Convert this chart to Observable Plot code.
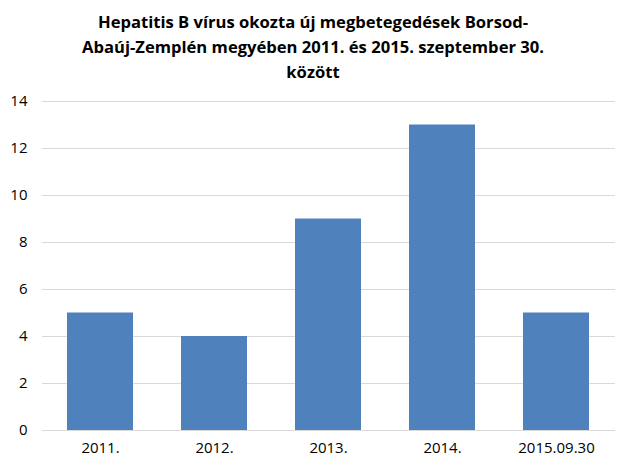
<!DOCTYPE html>
<html>
<head>
<meta charset="utf-8">
<script src="https://cdn.jsdelivr.net/npm/d3@7"></script>
<script src="https://cdn.jsdelivr.net/npm/@observablehq/plot@0.6"></script>
<style>
  html, body { margin: 0; padding: 0; background: #fff; }
  #title { width: 626px; height: 90px; box-sizing: border-box; padding-top: 9px; text-align: center;
    font-family: "Open Sans", sans-serif; font-weight: bold; font-size: 16.6px; line-height: 25px; color: #000; }
  svg { display: block; }
</style>
</head>
<body>
<div id="title">Hepatitis B vírus okozta új megbetegedések Borsod-<br>Abaúj-Zemplén megyében 2011. és 2015. szeptember 30.<br>között</div>
<div id="chart"></div>
<script>
const categories = ["2011.", "2012.", "2013.", "2014.", "2015.09.30"];
const values = [5, 4, 9, 13, 5];
const yTicks = [0, 2, 4, 6, 8, 10, 12, 14];

const data = categories.map((c, i) => ({category: c, value: values[i]}));

const chart = Plot.plot({
  width: 626,
  height: 381,
  marginTop: 11,
  marginBottom: 41,
  marginLeft: 42,
  marginRight: 11,
  style: {fontFamily: "Open Sans, sans-serif", fontSize: "15px", color: "#000", background: "#fff"},
  x: {domain: categories, paddingInner: 0.42, paddingOuter: 0.21, label: null, tickSize: 0, tickPadding: 12},
  y: {domain: [0, 14], ticks: yTicks, label: null, tickSize: 0, tickPadding: 15, tickFormat: d => String(d)},
  marks: [
    Plot.ruleY(yTicks, {stroke: "#d9d9d9", strokeWidth: 1}),
    Plot.barY(data, {x: "category", y: "value", fill: "#4f81bd"}),
    Plot.ruleY([0], {stroke: "#d9d9d9", strokeWidth: 1})
  ]
});
document.getElementById("chart").appendChild(chart);
</script>
</body>
</html>
